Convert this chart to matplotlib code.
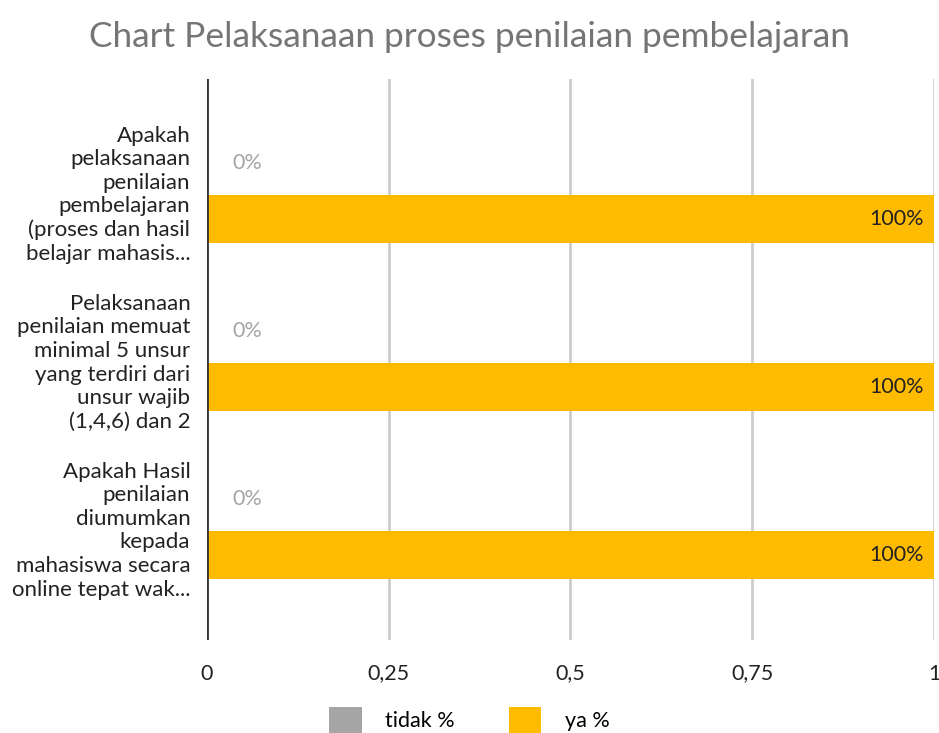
import matplotlib.pyplot as plt
import numpy as np

# data
questions = [
    "Apakah\npelaksanaan\npenilaian\npembelajaran\n(proses dan hasil\nbelajar mahasis...",
    "Pelaksanaan\npenilaian memuat\nminimal 5 unsur\nyang terdiri dari\nunsur wajib\n(1,4,6) dan 2",
    "Apakah Hasil\npenilaian\ndiumumkan\nkepada\nmahasiswa secara\nonline tepat wak...",
]
tidak = [0, 0, 0]
ya = [1, 1, 1]
x_ticks = [0, 0.25, 0.5, 0.75, 1]
x_tick_labels = ["0", "0,25", "0,5", "0,75", "1"]

plt.rcParams['font.family'] = ['Lato', 'DejaVu Sans']

fig = plt.figure(figsize=(9.39, 7.33), dpi=100)
ax = fig.add_axes([0.2204, 0.1269, 0.7743, 0.7653])

y = np.arange(len(questions))
h = 0.286
off = 0.167

b1 = ax.barh(y - off, tidak, height=h, color='#a5a5a5', label='tidak %', zorder=3)
b2 = ax.barh(y + off, ya, height=h, color='#ffbb00', label='ya %', zorder=3)

for yi, v in zip(y, tidak):
    ax.text(v + 0.035, yi - off, f"{v * 100:.0f}%", ha='left', va='center',
            fontsize=15.5, color='#a5a5a5')
for yi, v in zip(y, ya):
    ax.text(v - 0.014, yi + off, f"{v * 100:.0f}%", ha='right', va='center',
            fontsize=15.5, color='#222222', zorder=4)

ax.set_xlim(0, 1)
ax.set_ylim(2.673, -0.667)
ax.set_xticks(x_ticks)
ax.set_xticklabels(x_tick_labels, fontsize=15.5, color='#222222')
ax.set_yticks(y)
ax.set_yticklabels(questions, fontsize=16, color='#222222', linespacing=1.22)
ax.tick_params(axis='both', length=0)
ax.tick_params(axis='x', pad=17)
ax.tick_params(axis='y', pad=12)

ax.grid(axis='x', color='#cccccc', linewidth=2, zorder=0)
ax.axvline(0, color='#333333', linewidth=2, zorder=5)
for s in ax.spines.values():
    s.set_visible(False)

fig.text(0.5, 0.95, "Chart Pelaksanaan proses penilaian pembelajaran",
         ha='center', va='center', fontsize=25.4, color='#757575')

fig.legend(handles=[b1, b2], loc='center', bbox_to_anchor=(0.5, 0.018), ncol=2,
           frameon=False, fontsize=15.5, handlelength=1.5, handleheight=1.5,
           columnspacing=2.5, handletextpad=1.1)

fig.savefig('out.png', dpi=100)
